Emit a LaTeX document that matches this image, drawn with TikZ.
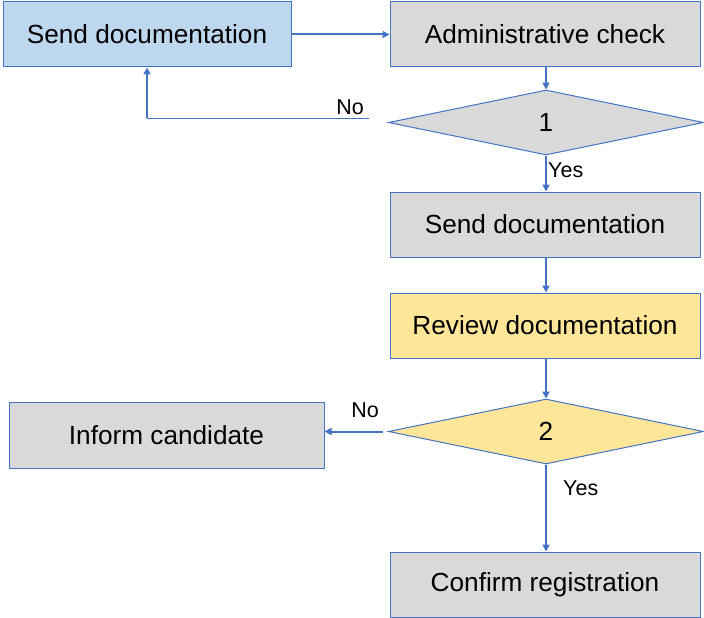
\documentclass[tikz,border=0pt]{standalone}
\usepackage{fontspec}
\setmainfont{Liberation Sans}
\usetikzlibrary{shapes.geometric,arrows.meta}
\definecolor{lineblue}{HTML}{4472C4}
\definecolor{boxblue}{HTML}{BDD7EE}
\definecolor{boxgray}{HTML}{D9D9D9}
\definecolor{boxyellow}{HTML}{FFE699}
\tikzset{
  box/.style={draw=lineblue, line width=1pt, rectangle, minimum height=65pt, inner sep=0pt,
    font=\fontsize{26.2}{30}\selectfont},
  dec/.style={draw=lineblue, line width=1pt, diamond, minimum width=315pt, minimum height=65pt,
    inner sep=0pt, font=\fontsize{26.2}{30}\selectfont},
  conn/.style={draw=lineblue, line width=2pt, -{Triangle[length=7pt,width=7pt]}},
  lbl/.style={font=\fontsize{21.5}{24}\selectfont, inner sep=0pt}
}
\begin{document}
\begin{tikzpicture}[x=1pt,y=-1pt]
\useasboundingbox (0,0) rectangle (704,618);
\node[box, fill=boxblue, minimum width=288pt] (senddoc) at (147,34.5) {Send documentation};
\node[box, fill=boxgray, minimum width=310pt] (admin) at (545,34.5) {Administrative check};
\node[dec, fill=boxgray] (d1) at (546,122.5) {1};
\node[box, fill=boxgray, minimum width=310pt] (send2) at (545,224.5) {Send documentation};
\node[box, fill=boxyellow, minimum width=310pt] (review) at (545,325.5) {Review documentation};
\node[dec, fill=boxyellow] (d2) at (546,431.5) {2};
\node[box, fill=boxgray, minimum width=315pt, minimum height=66pt] (inform) at (166.5,435) {Inform candidate};
\node[box, fill=boxgray, minimum width=310pt] (confirm) at (545,584.5) {Confirm registration};
\coordinate (noend) at (369,118);
\coordinate (d2out) at (383,431.5);
% connectors
\draw[conn] (senddoc.east) -- (admin.west);
\draw[conn] (admin.south -| d1.north) -- (d1.north);
\draw[conn] (d1.south) -- (send2.north -| d1.south);
\draw[conn] (send2.south -| d1.south) -- (review.north -| d1.south);
\draw[conn] (review.south -| d2.north) -- (d2.north);
\draw[conn] (d2.south) -- (confirm.north -| d2.south);
\draw[conn] (d2out) -- (d2out -| inform.east);
\draw[draw=lineblue, line width=1pt] (noend) -- (noend -| senddoc.south);
\draw[conn] ([yshift=0.5pt]noend -| senddoc.south) -- (senddoc.south);
% labels
\node[lbl, anchor=south east] (no1) at (364,115) {No};
\node[lbl, anchor=west] (yes1) at (548,170) {Yes};
\node[lbl, anchor=center] (no2) at (365,410) {No};
\node[lbl, anchor=west] (yes2) at (563,488) {Yes};
\end{tikzpicture}
\end{document}
